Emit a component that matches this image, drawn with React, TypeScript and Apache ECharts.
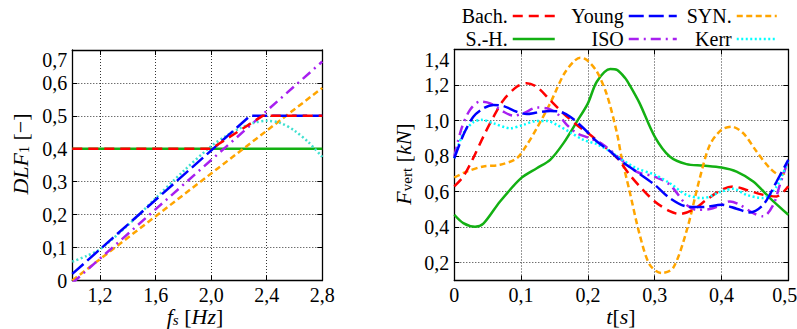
import React, { useEffect, useRef } from 'react';
import * as echarts from 'echarts';

const FONT = 'Liberation Serif';

// ---------- Left chart: DLF1 [-] vs f_s [Hz] ----------
const fsTicks = [1.2, 1.6, 2.0, 2.4, 2.8];
const dlfBach: number[][] = [[1.0, 0.4], [2.0, 0.4], [2.37, 0.5], [2.8, 0.5]];
const dlfYoung: number[][] = [[1.0, 0.02], [2.28, 0.5], [2.8, 0.5]];
const dlfSyn: number[][] = [[1.0, 0.0], [2.8, 0.585]];
const dlfSH: number[][] = [[1.0, 0.4], [2.8, 0.4]];
const dlfIso: number[][] = [[1.0, -0.008], [2.8, 0.665]];
const dlfKerr: number[][] = [
  [1.0, 0.057], [1.1, 0.074], [1.2, 0.095], [1.4, 0.168], [1.6, 0.25], [1.8, 0.332],
  [2.0, 0.408], [2.1, 0.437], [2.2, 0.461], [2.3, 0.478], [2.4, 0.485], [2.5, 0.478],
  [2.6, 0.455], [2.7, 0.42], [2.8, 0.375],
];

// ---------- Right chart: F_vert [kN] vs t [s] ----------
const fTicks = [0.2, 0.4, 0.6, 0.8, 1.0, 1.2, 1.4];
const fBach: number[][] = [
  [0, 0.63], [0.0135, 0.685], [0.0285, 0.79], [0.0435, 0.91], [0.0585, 1.02], [0.0735, 1.115],
  [0.0935, 1.19], [0.108, 1.21], [0.1235, 1.19], [0.1435, 1.115], [0.1635, 1.04], [0.1835, 0.975],
  [0.2, 0.93], [0.2185, 0.873], [0.2435, 0.79], [0.2625, 0.695], [0.2775, 0.63], [0.3, 0.545],
  [0.3225, 0.49], [0.3375, 0.474], [0.3575, 0.498], [0.3775, 0.554], [0.4, 0.61], [0.4175, 0.629],
  [0.4375, 0.61], [0.4625, 0.582], [0.4825, 0.573], [0.5, 0.63],
];
const fYoung: number[][] = [
  [0, 0.788], [0.0135, 0.919], [0.0285, 1.022], [0.0435, 1.069], [0.0585, 1.088], [0.0735, 1.082],
  [0.0935, 1.05], [0.1085, 1.037], [0.1235, 1.045], [0.1435, 1.054], [0.1585, 1.05], [0.1735, 1.022],
  [0.1935, 0.957], [0.2135, 0.882], [0.2335, 0.826], [0.2475, 0.779], [0.2725, 0.713], [0.3, 0.639],
  [0.3225, 0.564], [0.3475, 0.517], [0.3725, 0.513], [0.4, 0.526], [0.4225, 0.504], [0.4425, 0.483],
  [0.4625, 0.526], [0.4825, 0.657], [0.5, 0.779],
];
const fSyn: number[][] = [
  [0, 0.68], [0.0185, 0.713], [0.0435, 0.742], [0.0685, 0.751], [0.0935, 0.788], [0.1085, 0.863],
  [0.1235, 0.957], [0.1435, 1.097], [0.1635, 1.257], [0.1785, 1.331], [0.1885, 1.354], [0.1985, 1.341],
  [0.2135, 1.275], [0.2285, 1.144], [0.2435, 0.93], [0.25, 0.8], [0.2625, 0.601], [0.2775, 0.358],
  [0.2925, 0.189], [0.31, 0.142], [0.3275, 0.17], [0.3475, 0.376], [0.3675, 0.676], [0.3825, 0.863],
  [0.4, 0.948], [0.415, 0.966], [0.4325, 0.929], [0.4525, 0.826], [0.4725, 0.732], [0.4875, 0.695],
  [0.5, 0.713],
];
const fSH: number[][] = [
  [0, 0.47], [0.0135, 0.423], [0.031, 0.403], [0.0435, 0.42], [0.0685, 0.545], [0.1, 0.676],
  [0.1235, 0.732], [0.1435, 0.779], [0.1635, 0.873], [0.1835, 0.994], [0.2, 1.097], [0.2135, 1.22],
  [0.2335, 1.29], [0.2435, 1.285], [0.256, 1.238], [0.2625, 1.2], [0.2775, 1.097], [0.3, 0.91],
  [0.3225, 0.798], [0.3475, 0.755], [0.3725, 0.747], [0.4, 0.736], [0.4225, 0.713], [0.4475, 0.657],
  [0.4725, 0.564], [0.5, 0.47],
];
const fIso: number[][] = [
  [0, 0.798], [0.011, 0.957], [0.0235, 1.06], [0.0385, 1.107], [0.0535, 1.097], [0.0735, 1.05],
  [0.0885, 1.028], [0.1035, 1.041], [0.1235, 1.073], [0.1385, 1.069], [0.1535, 1.041], [0.1685, 0.976],
  [0.1835, 0.929], [0.2035, 0.9], [0.2235, 0.863], [0.2475, 0.788], [0.2725, 0.713], [0.3, 0.685],
  [0.3225, 0.639], [0.3475, 0.526], [0.3625, 0.498], [0.3825, 0.502], [0.4, 0.526], [0.4125, 0.545],
  [0.4275, 0.526], [0.4475, 0.479], [0.4625, 0.461], [0.4775, 0.526], [0.4875, 0.639], [0.5, 0.779],
];
const fKerr: number[][] = [
  [0, 0.788], [0.0135, 0.929], [0.0285, 0.991], [0.041, 1.004], [0.0585, 0.985], [0.0835, 0.957],
  [0.1035, 0.976], [0.1235, 0.998], [0.1385, 0.998], [0.1535, 0.976], [0.1735, 0.934], [0.1935, 0.891],
  [0.2135, 0.867], [0.2335, 0.826], [0.2475, 0.788], [0.2725, 0.732], [0.3, 0.695], [0.3225, 0.648],
  [0.3475, 0.582], [0.3725, 0.564], [0.4, 0.601], [0.4175, 0.616], [0.4375, 0.582], [0.4625, 0.564],
  [0.4825, 0.629], [0.5, 0.779],
];

const legendRow1 = ['Bach.', 'Young', 'SYN.'];
const legendRow2 = ['S.-H.', 'ISO', 'Kerr'];

const STYLES: Record<string, { color: string; type: any }> = {
  'Bach.': { color: '#ff0000', type: [10, 6] },
  'Young': { color: '#0000ff', type: [15, 5] },
  'SYN.': { color: '#ffa500', type: [6, 3.5] },
  'S.-H.': { color: '#13b013', type: 'solid' },
  'ISO': { color: '#a820f0', type: [10, 5, 2, 5] },
  'Kerr': { color: '#00ffff', type: [2, 2.5] },
};

const fmt = (v: number) => (Math.abs(v) < 1e-9 ? '0' : v.toFixed(1).replace('.', ','));

const labelStyle = { fontSize: 20, fontFamily: FONT, color: '#000' };
const axisLineStyle = { show: true, onZero: false, lineStyle: { color: '#000', width: 1.3 } };
const gridLineStyle = { show: true, lineStyle: { color: '#333', type: [1, 2], width: 1 } };

function makeAxisPair(kind: 'x' | 'y', gridIndex: number, min: number, max: number, extra: any, ticks?: number[], lastShift = false) {
  const tick: any = { show: true, inside: true, length: 5, lineStyle: { color: '#000', width: 1 } };
  const label: any = {
    ...labelStyle,
    margin: kind === 'x' ? 4 : 5,
    formatter: (v: number) => (lastShift && Math.abs(v - max) < 1e-9 ? '{e|' + fmt(v) + '}' : fmt(v)),
    rich: { e: { ...labelStyle, padding: [0, 7, 0, 0] } },
  };
  if (ticks) {
    tick.customValues = ticks;
    label.customValues = ticks;
  }
  if (kind === 'y') label.verticalAlignMaxLabel = 'top';
  const main = {
    type: 'value', gridIndex, min, max, position: kind === 'x' ? 'bottom' : 'left',
    axisLine: axisLineStyle, axisTick: tick, axisLabel: label, splitLine: gridLineStyle,
    ...extra,
  };
  const mirror = {
    type: 'value', gridIndex, min, max, position: kind === 'x' ? 'top' : 'right',
    axisLine: axisLineStyle, axisTick: { ...tick }, axisLabel: { show: false }, splitLine: { show: false },
    ...extra,
  };
  return [main, mirror];
}

function lineSeries(name: string, data: number[][], xi: number, yi: number, smooth: number | boolean, color?: string) {
  const s = STYLES[name.split(' ')[0]];
  return {
    type: 'line', name, data, xAxisIndex: xi, yAxisIndex: yi, smooth,
    symbol: 'none', showSymbol: false, clip: true,
    lineStyle: { color: color || s.color, width: 2.5, type: s.type },
    itemStyle: { color: color || s.color },
  };
}

export default function App() {
  const ref = useRef<HTMLDivElement>(null);
  useEffect(() => {
    if (!ref.current) return;
    const chart = echarts.init(ref.current, null, { renderer: 'svg' });
    const xs = [
      ...makeAxisPair('x', 0, 1.0, 2.8, {}, fsTicks),
      ...makeAxisPair('x', 1, 0, 0.5, { interval: 0.1 }, undefined, true),
    ];
    const ys = [
      ...makeAxisPair('y', 0, 0, 0.7, { interval: 0.1 }),
      ...makeAxisPair('y', 1, 0.1, 1.4, {}, fTicks),
    ];
    // one legend per cell, right-aligned to the icon's right edge (gnuplot key layout)
    const colRight = [241, 119, 19];
    const colWidth = [42, 48, 40];
    const rowTop = [6, 29];
    const legends: any[] = [];
    [legendRow1, legendRow2].forEach((row, r) => {
      row.forEach((name, c) => {
        legends.push({
          right: colRight[c], top: rowTop[r], orient: 'horizontal', align: 'right',
          itemWidth: colWidth[c], itemHeight: 14, selectedMode: false, padding: 0,
          textStyle: { ...labelStyle },
          itemStyle: { opacity: 0, borderWidth: 0 },
          lineStyle: { width: 2.5 },
          data: [name],
        });
      });
    });
    const subRich = (size: number, pad: number, italic: boolean) => ({
      fontSize: size, fontFamily: FONT, fontStyle: italic ? 'italic' : 'normal', padding: [pad, 0, 0, 0],
    });
    const nameText = (x: number, y: number, text: string, rotation: number, sub: any) => ({
      type: 'text', x, y, rotation, silent: true,
      style: {
        text, align: 'center', verticalAlign: 'middle', fontSize: 22, fontFamily: FONT, fill: '#000',
        rich: {
          i: { fontSize: 22, fontFamily: FONT, fontStyle: 'italic' },
          n: { fontSize: 22, fontFamily: FONT },
          s: sub,
        },
      },
    });
    chart.setOption({
      animation: false,
      backgroundColor: '#fff',
      textStyle: { fontFamily: FONT },
      grid: [
        { left: 72.3, top: 50, width: 250, height: 230.5, outerBoundsMode: 'none', containLabel: false },
        { left: 454.3, top: 49.5, width: 334, height: 231, outerBoundsMode: 'none', containLabel: false },
      ],
      xAxis: xs,
      yAxis: ys,
      legend: legends,
      graphic: [
        nameText(20, 154, '{i|DLF}{s|1}{n| [−]}', Math.PI / 2, subRich(14, 8, false)),
        nameText(195, 316, '{i|f}{s|s}{n| [}{i|Hz}{n|]}', 0, subRich(15, 7, true)),
        nameText(403, 164, '{i|F}{s|vert}{n| [}{i|kN}{n|]}', Math.PI / 2, subRich(15, 8, false)),
        nameText(621, 316, '{i|t}{n|[}{i|s}{n|]}', 0, subRich(15, 7, true)),
      ],
      series: [
        lineSeries('S.-H. DLF', dlfSH, 0, 0, false),
        lineSeries('SYN. DLF', dlfSyn, 0, 0, false),
        lineSeries('ISO DLF', dlfIso, 0, 0, false),
        lineSeries('Kerr DLF', dlfKerr, 0, 0, 0.3, '#40e0d0'),
        lineSeries('Young DLF', dlfYoung, 0, 0, false),
        lineSeries('Bach. DLF', dlfBach, 0, 0, false),
        lineSeries('S.-H.', fSH, 2, 2, 0.3),
        lineSeries('SYN.', fSyn, 2, 2, 0.3),
        lineSeries('Bach.', fBach, 2, 2, 0.3),
        lineSeries('ISO', fIso, 2, 2, 0.3),
        lineSeries('Kerr', fKerr, 2, 2, 0.3),
        lineSeries('Young', fYoung, 2, 2, 0.3),
      ],
    });
    return () => chart.dispose();
  }, []);
  return <div ref={ref} style={{ position: 'absolute', left: 0, top: 0, width: 797, height: 329 }} />;
}
